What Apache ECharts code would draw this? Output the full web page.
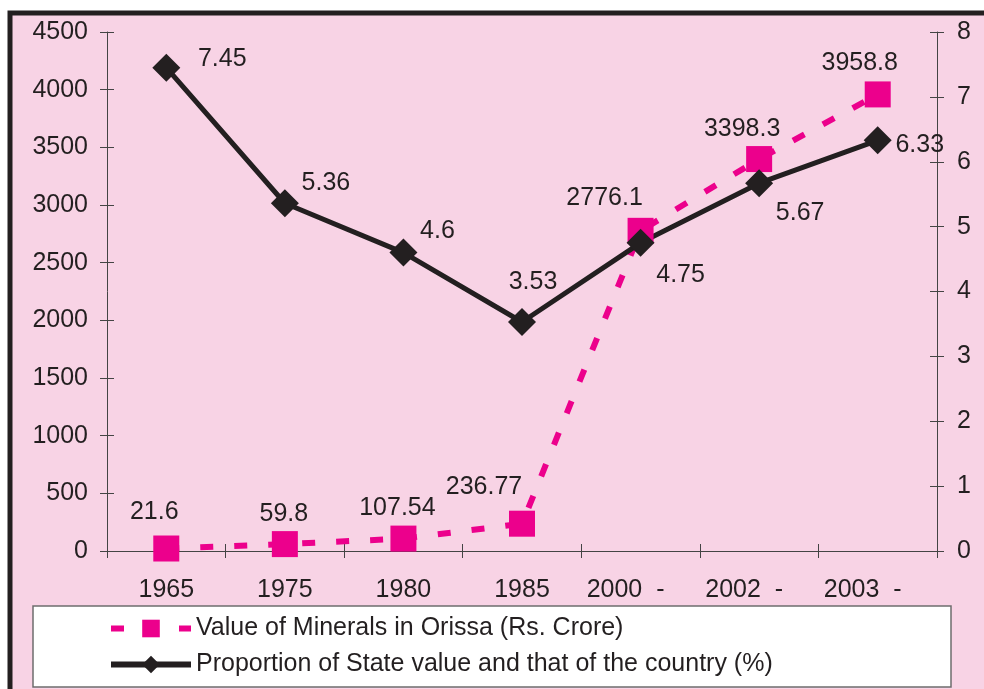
<!DOCTYPE html>
<html>
<head>
<meta charset="utf-8">
<script src="https://cdn.jsdelivr.net/npm/echarts@6/dist/echarts.min.js"></script>
<style>
  html, body { margin: 0; padding: 0; background: #fff; }
  #chart { width: 984px; height: 689px; }
</style>
</head>
<body>
<div id="chart"></div>
<script>
const years = ['1965', '1975', '1980', '1985', '2000 -', '2002 -', '2003 -']
const mineralValue = [21.6, 59.8, 107.54, 236.77, 2776.1, 3398.3, 3958.8]
const stateShare = [7.45, 5.36, 4.6, 3.53, 4.75, 5.67, 6.33]

const leftTicks = { min: 0, max: 4500, interval: 500 }
const rightTicks = { min: 0, max: 8, interval: 1 }

// where each value label sits, relative to its marker (px)
const mineralLabelOffset = [[-12, -36], [-1, -30], [-6, -30], [-38, -37], [-36, -33], [-17, -30], [-18, -31]]
const shareLabelOffset = [[56, -9], [41, -20], [34, -21], [11, -40], [40, 32], [41, 30], [42, 5]]

const ink = '#231f20'
const pink = '#ec008c'
const bg = '#f8d3e5'
const font = 'Liberation Sans, Arial, sans-serif'
const fs = 25

const chart = echarts.init(document.getElementById('chart'))

const withLabels = (values, offsets) => values.map((v, i) => ({
    value: v,
    label: { offset: offsets[i] }
}))

const labelStyle = {
    show: true,
    position: 'inside',
    align: 'center',
    verticalAlign: 'middle',
    fontFamily: font,
    fontSize: fs,
    color: ink
}

const yBase = (ticks, pos) => ({
    type: 'value',
    position: pos,
    min: ticks.min,
    max: ticks.max,
    interval: ticks.interval,
    splitLine: { show: false }
})

const opt = {
    animation: false,
    backgroundColor: '#fff',
    graphic: [
        {
            type: 'rect',
            z: -10,
            shape: { x: 10, y: 13, width: 1010, height: 720 },
            style: { fill: bg, stroke: ink, lineWidth: 5 }
        },
        {
            type: 'rect',
            z: -5,
            shape: { x: 33, y: 606, width: 918, height: 81 },
            style: { fill: '#fff', stroke: '#6d6d6d', lineWidth: 1.5 }
        }
    ],
    grid: { left: 107, right: 47, top: 32, bottom: 138, containLabel: false },
    legend: {
        orient: 'vertical',
        left: 108,
        top: 616,
        padding: 0,
        itemGap: 11,
        itemWidth: 80,
        itemHeight: 22,
        lineStyle: { width: 6 },
        textStyle: { fontFamily: font, fontSize: fs, color: ink },
        data: ['Value of Minerals in Orissa (Rs. Crore)', 'Proportion of State value and that of the country (%)']
    },
    xAxis: [
        {
            type: 'category',
            data: years,
            boundaryGap: true,
            axisLine: { lineStyle: { color: '#444', width: 1 } },
            axisTick: { show: true, length: 7, lineStyle: { color: '#444' } },
            axisLabel: {
                interval: 0,
                margin: 27,
                fontFamily: font,
                fontSize: fs,
                color: ink,
                formatter: (v) => v.indexOf('-') > 0 ? '{a|' + v.replace(' -', '  -') + '}{p|}' : v,
                rich: { a: { fontFamily: font, fontSize: fs, color: ink }, p: { width: 30 } }
            }
        },
        {
            type: 'category',
            data: years,
            position: 'bottom',
            axisLine: { show: false },
            axisTick: { show: true, inside: true, length: 7, lineStyle: { color: '#444' } },
            axisLabel: { show: false }
        }
    ],
    yAxis: [
        Object.assign(yBase(leftTicks, 'left'), {
            axisLine: { show: true, lineStyle: { color: '#444' } },
            axisTick: { show: true, length: 7, lineStyle: { color: '#444' } },
            axisLabel: { margin: 19, fontFamily: font, fontSize: fs, color: ink, formatter: (v) => String(v) }
        }),
        Object.assign(yBase(rightTicks, 'right'), {
            axisLine: { show: true, lineStyle: { color: '#444' } },
            axisTick: { show: true, length: 7, lineStyle: { color: '#444' } },
            axisLabel: { margin: 20, fontFamily: font, fontSize: fs, color: ink, formatter: (v) => String(v) }
        }),
        Object.assign(yBase(leftTicks, 'left'), {
            axisLine: { show: false },
            axisTick: { show: true, inside: true, length: 7, lineStyle: { color: '#444' } },
            axisLabel: { show: false }
        }),
        Object.assign(yBase(rightTicks, 'right'), {
            axisLine: { show: false },
            axisTick: { show: true, inside: true, length: 7, lineStyle: { color: '#444' } },
            axisLabel: { show: false }
        })
    ],
    series: [
        {
            name: 'Value of Minerals in Orissa (Rs. Crore)',
            type: 'line',
            yAxisIndex: 0,
            data: withLabels(mineralValue, mineralLabelOffset),
            symbol: 'rect',
            symbolSize: 26,
            itemStyle: { color: pink },
            lineStyle: { color: pink, width: 6, type: [13, 21] },
            label: labelStyle
        },
        {
            name: 'Proportion of State value and that of the country (%)',
            type: 'line',
            yAxisIndex: 1,
            data: withLabels(stateShare, shareLabelOffset),
            symbol: 'diamond',
            symbolSize: 28,
            itemStyle: { color: ink },
            lineStyle: { color: ink, width: 5 },
            label: labelStyle
        }
    ]
}

chart.setOption(opt)
</script>
</body>
</html>
